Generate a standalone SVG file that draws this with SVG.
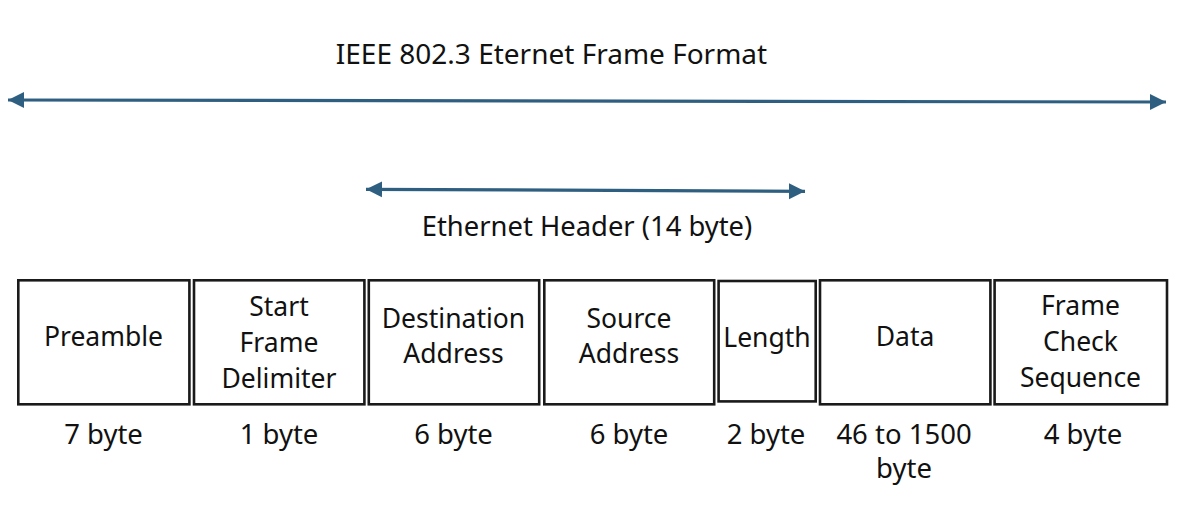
<svg xmlns="http://www.w3.org/2000/svg" width="1202" height="516" viewBox="0 0 1202 516">
<defs>
<style>
text{font-family:"Noto Sans","Open Sans","Liberation Sans",sans-serif;font-size:26.5px;fill:#111;text-anchor:middle}
.title{font-size:28px}
.hdr{font-size:27.4px}
.sz{font-size:27.5px}
.box{fill:#fff;stroke:#1a1a1a;stroke-width:2.6}
.arr{stroke:#2f5f80;stroke-width:3.2;fill:none}
</style>
<marker id="ah" markerUnits="userSpaceOnUse" viewBox="0 0 17 17" markerWidth="17" markerHeight="17" refX="16" refY="8.5" orient="auto-start-reverse">
<path d="M0,0.5 L16,8.5 L0,16.5 Z" fill="#2f5f80"/>
</marker>
</defs>
<rect width="1202" height="516" fill="#fff"/>
<text class="title" x="551.5" y="63.5">IEEE 802.3 Eternet Frame Format</text>
<g id="connectors">
<line class="arr" x1="8" y1="100" x2="1166" y2="102" marker-start="url(#ah)" marker-end="url(#ah)"/>
<line class="arr" x1="366" y1="189.3" x2="805" y2="191.3" marker-start="url(#ah)" marker-end="url(#ah)"/>
</g>
<text class="hdr" x="587" y="236">Ethernet Header (14 byte)</text>
<g id="preamble">
<rect class="box" x="18.3" y="280.3" width="171.1" height="124"/>
<text x="103.5" y="346">Preamble</text>
<text class="sz" x="103.5" y="444">7 byte</text>
</g>
<g id="sfd">
<rect class="box" x="194" y="280.3" width="170.4" height="124"/>
<text x="279" y="316">Start</text>
<text x="279" y="351.5">Frame</text>
<text x="279" y="387.5">Delimiter</text>
<text class="sz" x="279" y="444">1 byte</text>
</g>
<g id="dest">
<rect class="box" x="368.8" y="280.3" width="170.4" height="124"/>
<text x="453.5" y="328">Destination</text>
<text x="453.5" y="363">Address</text>
<text class="sz" x="453.5" y="444">6 byte</text>
</g>
<g id="source">
<rect class="box" x="544.3" y="280.3" width="169.9" height="124"/>
<text x="629" y="328">Source</text>
<text x="629" y="363">Address</text>
<text class="sz" x="629" y="444">6 byte</text>
</g>
<g id="length">
<rect class="box" x="718.6" y="281" width="97.1" height="120.4"/>
<text x="767" y="347">Length</text>
<text class="sz" x="766" y="444">2 byte</text>
</g>
<g id="data">
<rect class="box" x="820" y="280.3" width="170.4" height="124"/>
<text x="905" y="346">Data</text>
<text class="sz" x="904" y="444">46 to 1500</text>
<text class="sz" x="904" y="478">byte</text>
</g>
<g id="fcs">
<rect class="box" x="994.6" y="280.3" width="172.4" height="124"/>
<text x="1080.5" y="315">Frame</text>
<text x="1080.5" y="351">Check</text>
<text x="1080.5" y="387">Sequence</text>
<text class="sz" x="1083" y="444">4 byte</text>
</g>
</svg>
